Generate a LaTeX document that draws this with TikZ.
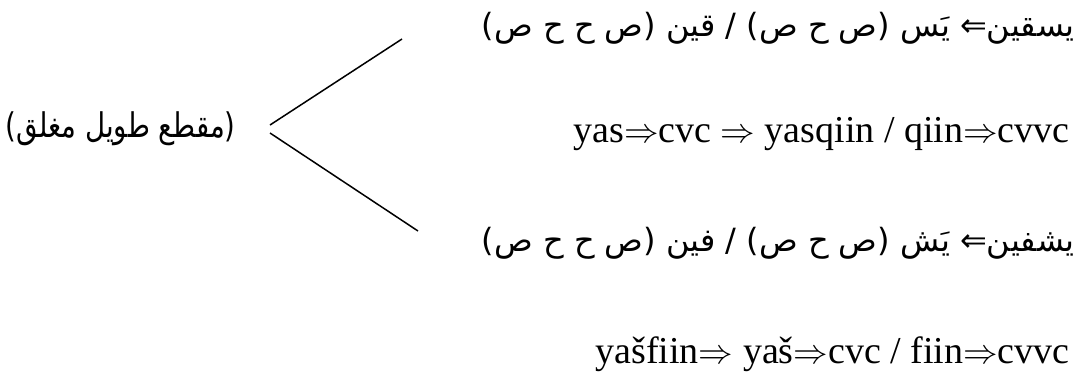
\documentclass[tikz,border=0pt]{standalone}
\usepackage{fontspec}
\usepackage{graphicx}
\setmainfont{Liberation Serif}
\newfontfamily\arabicfont[Script=Arabic]{DejaVu Sans}
\TeXXeTstate=1
\usetikzlibrary{positioning}

\begin{document}
\begin{tikzpicture}[
  x=0.5pt, y=-0.5pt,
  arline/.style={anchor=base east, inner sep=0pt,
    font=\arabicfont\fontsize{16}{19}\selectfont},
  laline/.style={anchor=base east, inner sep=0pt,
    font=\fontsize{19}{23}\selectfont},
  branch/.style={line width=0.75pt}
]
\useasboundingbox (0,0) rectangle (1082,376);
% syllable type
\node[arline, font=\arabicfont\fontsize{17}{20}\selectfont] (kind) at (236,137)
  {\resizebox{115pt}{\height}{\beginR(مقطع طويل مغلق)\endR}};
% yasqiin
\node[arline] (sqar) at (1075,36) {\beginR يسقين⇐ يَس (ص ح ص) / قين (ص ح ح ص)\endR};
\node[laline] (sqla) at (1070,142) {yas$\Rightarrow$cvc $\Rightarrow$ yasqiin / qiin$\Rightarrow$cvvc};
% yashfiin
\node[arline] (sfar) at (1075,251) {\beginR يشفين⇐ يَش (ص ح ص) / فين (ص ح ح ص)\endR};
\node[laline] (sfla) at (1070,363) {yašfiin$\Rightarrow$ yaš$\Rightarrow$cvc / fiin$\Rightarrow$cvvc};

\coordinate (forkup) at (270,125);
\coordinate (forkdn) at (270,133);
\coordinate (tipup) at (402,39);
\coordinate (tipdn) at (418,231);
\draw[branch] (forkup) -- (tipup);
\draw[branch] (forkdn) -- (tipdn);
\end{tikzpicture}
\end{document}
